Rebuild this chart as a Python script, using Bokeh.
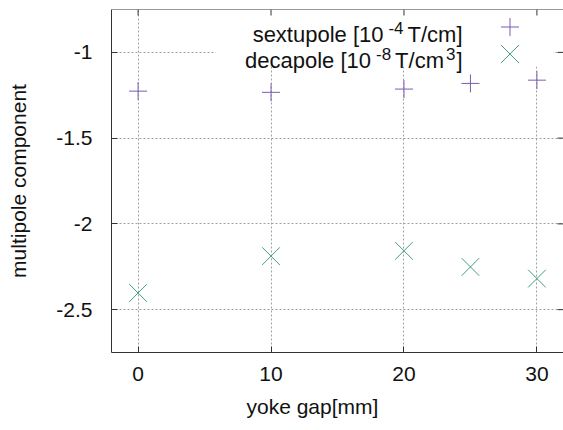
import math
from bokeh.plotting import figure
from bokeh.models import (Range1d, FixedTicker, Label, BoxAnnotation, Span,
                          Legend, LegendItem, Title)
from bokeh.embed import file_html
from bokeh.resources import INLINE

# ---- data ----
gap_mm = [0, 10, 20, 25, 30]
sextupole = [-1.226, -1.233, -1.214, -1.181, -1.162]
decapole = [-2.403, -2.188, -2.157, -2.251, -2.319]
x_ticks = [0, 10, 20, 30]
y_ticks = [-2.5, -2.0, -1.5, -1.0]
y_tick_labels = ["-2.5", "-2", "-1.5", "-1"]
x_title = "yoke gap[mm]"
y_title = "multipole component"
# legend texts split into normal and superscript pieces
sext_parts = ["sextupole [10", "-4", "T/cm]"]
deca_parts = ["decapole [10", "-8", "T/cm", "3", "]"]

# ---- layout / style ----
W, H = 563, 430
ML, MT, MB = 111, 9, 78
XR = (-2, 32)
YR = (-2.75, -0.75)
FW = W - ML
FH = H - MT - MB
FONT = "Liberation Sans"
FS = "21px"
LFS = "22px"
SFS = "17px"
TXT = "#111111"
AX = "#333333"
PURPLE = "#7b5cb0"
GREEN = "#3f9f7e"


def X(px):
    return XR[0] + (px - ML) * (XR[1] - XR[0]) / FW


def Y(py):
    return YR[1] - (py - MT) * (YR[1] - YR[0]) / FH


p = figure(width=W, height=H, output_backend="svg", toolbar_location=None,
           x_range=Range1d(*XR), y_range=Range1d(*YR),
           min_border_left=ML, min_border_right=0, min_border_top=MT,
           min_border_bottom=MB, outline_line_color=None,
           background_fill_color="white", border_fill_color="white")

for ax in (p.xaxis[0], p.yaxis[0]):
    ax.major_tick_in = 6
    ax.major_tick_out = 0
    ax.minor_tick_in = 0
    ax.minor_tick_out = 0
    ax.major_tick_line_color = AX
    ax.axis_line_color = AX
    ax.major_label_text_font = FONT
    ax.major_label_text_font_size = FS
    ax.major_label_text_color = TXT
    ax.axis_label_text_font = FONT
    ax.axis_label_text_font_size = FS
    ax.axis_label_text_font_style = "normal"
    ax.axis_label_text_color = TXT

p.xaxis.ticker = FixedTicker(ticks=x_ticks)
p.yaxis.ticker = FixedTicker(ticks=y_ticks)
p.yaxis.major_label_overrides = {t: l for t, l in zip(y_ticks, y_tick_labels)}
p.xaxis.major_label_standoff = 14
p.yaxis.major_label_standoff = 19
p.yaxis.axis_label = y_title
p.yaxis.axis_label_standoff = 23

# x title: gnuplot places it left of the frame centre
p.add_layout(Title(text=x_title, align="left", offset=135, standoff=18,
                   vertical_align="bottom",
                   text_font=FONT, text_font_size=FS, text_font_style="normal",
                   text_color=TXT), "below")

p.xgrid.ticker = FixedTicker(ticks=x_ticks)
p.ygrid.ticker = FixedTicker(ticks=y_ticks)
for g in (p.xgrid[0], p.ygrid[0]):
    g.grid_line_color = "#a0a0a0"
    g.grid_line_dash = "2 2"
    g.grid_line_width = 1

# top border and mirrored ticks (top and right)
p.add_layout(Span(location=YR[1], dimension="width", line_color=AX, line_width=1))
tick_dy = 6 * (YR[1] - YR[0]) / FH
tick_dx = 6 * (XR[1] - XR[0]) / FW
p.segment(x0=x_ticks, y0=[YR[1]] * len(x_ticks), x1=x_ticks,
          y1=[YR[1] - tick_dy] * len(x_ticks), line_color=AX, line_width=1)
p.segment(x0=[XR[1]] * len(y_ticks), y0=y_ticks, x1=[XR[1] - tick_dx] * len(y_ticks),
          y1=y_ticks, line_color=AX, line_width=1)

# legend background box (hides grid behind the key)
p.add_layout(BoxAnnotation(left=X(215), right=X(553), top=YR[1], bottom=Y(66),
                           fill_color="white", fill_alpha=1.0, line_color=None,
                           level="underlay"))

r1 = p.scatter(gap_mm, sextupole, marker="cross", size=18,
               line_color=PURPLE, line_width=1)
r2 = p.scatter(gap_mm, decapole, marker="x", size=25,
               line_color=GREEN, line_width=1)

# legend keys (one legend per key, to the right of the texts)
for rend, box, cy in ((r1, 45, 17), (r2, 63, 44.5)):
    cx = 509.3 - ML
    lg = Legend(items=[LegendItem(label="", renderers=[rend])],
                location=(cx - box / 2, FH - cy - box / 2),
                glyph_width=box, glyph_height=box, spacing=0, padding=0, margin=0,
                label_width=0, label_height=0, label_standoff=0,
                label_text_font_size="1px", border_line_color=None,
                background_fill_alpha=0)
    p.add_layout(lg)


def add_text(txt, right_px, base_py, size):
    p.add_layout(Label(x=X(right_px), y=Y(base_py), text=txt, text_align="right",
                       text_baseline="alphabetic", text_font=FONT,
                       text_font_size=size, text_color=TXT))


add_text(sext_parts[0], 383, 33.5, LFS)
add_text(sext_parts[1], 403, 27, SFS)
add_text(sext_parts[2], 462, 33.5, LFS)
add_text(deca_parts[0], 370.5, 60, LFS)
add_text(deca_parts[1], 390.6, 53.5, SFS)
add_text(deca_parts[2], 443.5, 60, LFS)
add_text(deca_parts[3], 455, 53.5, SFS)
add_text(deca_parts[4], 462, 60, LFS)

open("out.html", "w").write(file_html(p, INLINE))
